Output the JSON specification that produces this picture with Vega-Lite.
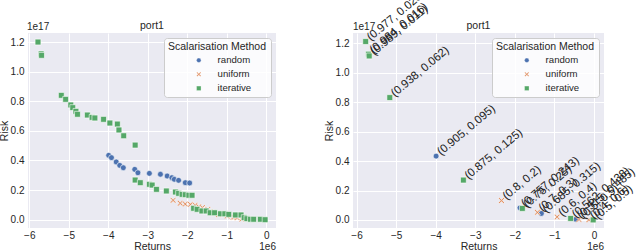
{
  "$schema": "https://vega.github.io/schema/vega-lite/v6.json",
  "background": "white",
  "padding": {"left": -1, "top": -12, "right": 0, "bottom": 0},
  "autosize": {"type": "pad"},
  "spacing": 77,
  "bounds": "flush",
  "config": {
    "font": "Liberation Sans",
    "view": {"fill": "#EAEAF2", "stroke": null},
    "axis": {
      "domain": false, "ticks": false, "grid": true, "gridColor": "white", "gridWidth": 1,
      "labelFont": "Liberation Sans", "labelFontSize": 10, "labelColor": "#262626", "labelOverlap": false, "labelFlush": false,
      "titleFont": "Liberation Sans", "titleFontSize": 10.5, "titleFontWeight": "normal", "titleColor": "#262626",
      "labelPadding": 4, "titlePadding": 1, "tickCount": 10
    },
    "axisX": {"labelPadding": 2, "titlePadding": 1},
    "legend": {
      "orient": "top-right", "offset": 5, "padding": 4,
      "fillColor": "rgba(255,255,255,0.8)", "strokeColor": "#CCCCCC", "cornerRadius": 3,
      "titleFont": "Liberation Sans", "titleFontSize": 10.5, "titleFontWeight": "normal", "titleColor": "#262626",
      "labelFont": "Liberation Sans", "labelFontSize": 9.6, "labelColor": "#262626",
      "symbolSize": 20, "symbolStrokeWidth": 0.3, "labelOffset": 14, "rowPadding": 3, "titlePadding": 3
    }
  },
  "resolve": {
    "scale": {"color": "independent", "shape": "independent"},
    "legend": {"color": "independent", "shape": "independent"}
  },
  "datasets": {
    "left": [
      {"method": "random", "returns": -3.99, "risk": 0.435},
      {"method": "random", "returns": -3.92, "risk": 0.419},
      {"method": "random", "returns": -3.80, "risk": 0.39},
      {"method": "random", "returns": -3.71, "risk": 0.367},
      {"method": "random", "returns": -3.62, "risk": 0.351},
      {"method": "random", "returns": -3.33, "risk": 0.34},
      {"method": "random", "returns": -3.25, "risk": 0.317},
      {"method": "random", "returns": -2.96, "risk": 0.313},
      {"method": "random", "returns": -2.68, "risk": 0.307},
      {"method": "random", "returns": -2.51, "risk": 0.295},
      {"method": "random", "returns": -2.39, "risk": 0.284},
      {"method": "random", "returns": -2.33, "risk": 0.273},
      {"method": "random", "returns": -2.22, "risk": 0.266},
      {"method": "random", "returns": -2.05, "risk": 0.25},
      {"method": "random", "returns": -1.94, "risk": 0.248},
      {"method": "uniform", "returns": -2.36, "risk": 0.131},
      {"method": "uniform", "returns": -2.18, "risk": 0.111},
      {"method": "uniform", "returns": -2.05, "risk": 0.106},
      {"method": "uniform", "returns": -1.92, "risk": 0.104},
      {"method": "uniform", "returns": -1.80, "risk": 0.099},
      {"method": "uniform", "returns": -1.71, "risk": 0.088},
      {"method": "uniform", "returns": -1.62, "risk": 0.082},
      {"method": "uniform", "returns": -1.48, "risk": 0.07},
      {"method": "uniform", "returns": -1.42, "risk": 0.055},
      {"method": "uniform", "returns": -1.33, "risk": 0.047},
      {"method": "uniform", "returns": -1.21, "risk": 0.034},
      {"method": "uniform", "returns": -0.99, "risk": 0.025},
      {"method": "uniform", "returns": -0.84, "risk": 0.016},
      {"method": "uniform", "returns": -0.81, "risk": 0.018},
      {"method": "uniform", "returns": -0.74, "risk": 0.014},
      {"method": "uniform", "returns": -0.62, "risk": 0.004},
      {"method": "iterative", "returns": -5.78, "risk": 1.2},
      {"method": "iterative", "returns": -5.70, "risk": 1.12},
      {"method": "iterative", "returns": -5.69, "risk": 1.11},
      {"method": "iterative", "returns": -5.19, "risk": 0.84},
      {"method": "iterative", "returns": -5.08, "risk": 0.813},
      {"method": "iterative", "returns": -4.95, "risk": 0.775},
      {"method": "iterative", "returns": -4.90, "risk": 0.757},
      {"method": "iterative", "returns": -4.82, "risk": 0.732},
      {"method": "iterative", "returns": -4.78, "risk": 0.712},
      {"method": "iterative", "returns": -4.53, "risk": 0.707},
      {"method": "iterative", "returns": -4.41, "risk": 0.691},
      {"method": "iterative", "returns": -4.34, "risk": 0.687},
      {"method": "iterative", "returns": -4.12, "risk": 0.678},
      {"method": "iterative", "returns": -3.96, "risk": 0.653},
      {"method": "iterative", "returns": -3.77, "risk": 0.646},
      {"method": "iterative", "returns": -3.73, "risk": 0.606},
      {"method": "iterative", "returns": -3.61, "risk": 0.567},
      {"method": "iterative", "returns": -3.32, "risk": 0.504},
      {"method": "iterative", "returns": -3.32, "risk": 0.268},
      {"method": "iterative", "returns": -3.19, "risk": 0.25},
      {"method": "iterative", "returns": -2.96, "risk": 0.239},
      {"method": "iterative", "returns": -2.89, "risk": 0.234},
      {"method": "iterative", "returns": -2.78, "risk": 0.205},
      {"method": "iterative", "returns": -2.53, "risk": 0.194},
      {"method": "iterative", "returns": -2.30, "risk": 0.187},
      {"method": "iterative", "returns": -2.22, "risk": 0.178},
      {"method": "iterative", "returns": -2.13, "risk": 0.171},
      {"method": "iterative", "returns": -2.05, "risk": 0.169},
      {"method": "iterative", "returns": -1.96, "risk": 0.165},
      {"method": "iterative", "returns": -1.88, "risk": 0.165},
      {"method": "iterative", "returns": -1.84, "risk": 0.077},
      {"method": "iterative", "returns": -1.75, "risk": 0.07},
      {"method": "iterative", "returns": -1.63, "risk": 0.059},
      {"method": "iterative", "returns": -1.52, "risk": 0.059},
      {"method": "iterative", "returns": -1.42, "risk": 0.047},
      {"method": "iterative", "returns": -1.31, "risk": 0.047},
      {"method": "iterative", "returns": -1.16, "risk": 0.04},
      {"method": "iterative", "returns": -1.05, "risk": 0.04},
      {"method": "iterative", "returns": -0.95, "risk": 0.036},
      {"method": "iterative", "returns": -0.78, "risk": 0.032},
      {"method": "iterative", "returns": -0.64, "risk": 0.032},
      {"method": "iterative", "returns": -0.56, "risk": 0.014},
      {"method": "iterative", "returns": -0.49, "risk": 0.007},
      {"method": "iterative", "returns": -0.40, "risk": 0.003},
      {"method": "iterative", "returns": -0.32, "risk": 0.003},
      {"method": "iterative", "returns": -0.15, "risk": 0.003},
      {"method": "iterative", "returns": -0.03, "risk": 0.0}
    ],
    "right": [
      {"method": "random", "returns": -3.99, "risk": 0.434, "weights": "(0.905, 0.095)"},
      {"method": "random", "returns": -1.87, "risk": 0.082, "weights": "(0.757, 0.243)"},
      {"method": "random", "returns": -1.33, "risk": 0.044, "weights": "(0.685, 0.315)"},
      {"method": "random", "returns": -0.46, "risk": 0.004, "weights": "(0.515, 0.485)"},
      {"method": "uniform", "returns": -2.34, "risk": 0.132, "weights": "(0.8, 0.2)"},
      {"method": "uniform", "returns": -1.43, "risk": 0.052, "weights": "(0.7, 0.3)"},
      {"method": "uniform", "returns": -0.93, "risk": 0.02, "weights": "(0.6, 0.4)"},
      {"method": "uniform", "returns": -0.38, "risk": 0.003, "weights": "(0.5, 0.5)"},
      {"method": "uniform", "returns": -0.13, "risk": 0.001, "weights": "(0.4, 0.6)"},
      {"method": "iterative", "returns": -5.77, "risk": 1.213, "weights": "(0.977, 0.023)"},
      {"method": "iterative", "returns": -5.70, "risk": 1.127, "weights": "(0.984, 0.016)"},
      {"method": "iterative", "returns": -5.68, "risk": 1.115, "weights": "(0.989, 0.011)"},
      {"method": "iterative", "returns": -5.16, "risk": 0.832, "weights": "(0.938, 0.062)"},
      {"method": "iterative", "returns": -3.30, "risk": 0.271, "weights": "(0.875, 0.125)"},
      {"method": "iterative", "returns": -1.81, "risk": 0.078, "weights": "(0.75, 0.25)"},
      {"method": "iterative", "returns": -0.59, "risk": 0.01, "weights": "(0.562, 0.438)"},
      {"method": "iterative", "returns": -0.02, "risk": 0.0, "weights": "(0.5, 0.5)"}
    ]
  },
  "hconcat": [
    {
      "width": 248, "height": 195,
      "layer": [
        {
          "data": {"name": "left"},
          "mark": {"type": "point", "filled": true, "stroke": "white", "strokeWidth": 0.6, "size": 34, "opacity": 1},
          "encoding": {
            "x": {"field": "returns", "type": "quantitative", "scale": {"domain": [-6.033, 0.246], "nice": false, "zero": false}, "axis": {"values": [-6, -5, -4, -3, -2, -1, 0], "tickCount": 10, "format": "d", "title": "Returns", "labelOverlap": false}},
            "y": {"field": "risk", "type": "quantitative", "scale": {"domain": [-0.056, 1.261], "nice": false, "zero": false}, "axis": {"values": [0, 0.2, 0.4, 0.6, 0.8, 1, 1.2], "tickCount": 10, "format": ".1f", "title": "Risk", "labelOverlap": false}},
            "color": {"field": "method", "type": "nominal", "scale": {"domain": ["random", "uniform", "iterative"], "range": ["#4C72B0", "#DD8452", "#55A868"]}, "legend": {"title": "Scalarisation Method", "symbolOffset": 26}},
            "shape": {"field": "method", "type": "nominal", "scale": {"domain": ["random", "uniform", "iterative"], "range": ["circle", "M-1,-0.7L-0.3,0L-1,0.7L-0.7,1L0,0.3L0.7,1L1,0.7L0.3,0L1,-0.7L0.7,-1L0,-0.3L-0.7,-1Z", "square"]}, "legend": {"title": "Scalarisation Method", "symbolOffset": 26}}
          }
        },
        {
          "data": {"values": [{"mult": "1e17", "title": "port1"}]},
          "layer": [
            {
              "mark": {"type": "text", "align": "left", "baseline": "bottom", "fontSize": 10, "color": "#262626", "dy": -1, "dx": -1},
              "encoding": {"x": {"datum": -6.033, "type": "quantitative"}, "y": {"datum": 1.261, "type": "quantitative"}, "text": {"field": "mult"}}
            },
            {
              "mark": {"type": "text", "align": "center", "baseline": "bottom", "fontSize": 10.5, "color": "#262626", "dy": -2},
              "encoding": {"x": {"datum": -2.894, "type": "quantitative"}, "y": {"datum": 1.261, "type": "quantitative"}, "text": {"field": "title"}}
            }
          ]
        },
        {
          "data": {"values": [{"mult": "1e6"}]},
          "mark": {"type": "text", "align": "right", "baseline": "middle", "fontSize": 10, "color": "#262626", "dy": 19},
          "encoding": {"x": {"datum": 0.246, "type": "quantitative"}, "y": {"datum": -0.056, "type": "quantitative"}, "text": {"field": "mult"}}
        }
      ]
    },
    {
      "width": 251, "height": 195,
      "layer": [
        {
          "data": {"name": "right"},
          "mark": {"type": "point", "filled": true, "stroke": "white", "strokeWidth": 0.6, "size": 34, "opacity": 1},
          "encoding": {
            "x": {"field": "returns", "type": "quantitative", "scale": {"domain": [-6.09, 0.253], "nice": false, "zero": false}, "axis": {"values": [-6, -5, -4, -3, -2, -1, 0], "tickCount": 10, "format": "d", "title": "Returns", "labelOverlap": false}},
            "y": {"field": "risk", "type": "quantitative", "scale": {"domain": [-0.055, 1.271], "nice": false, "zero": false}, "axis": {"values": [0, 0.2, 0.4, 0.6, 0.8, 1, 1.2], "tickCount": 10, "format": ".1f", "title": "Risk", "labelOverlap": false}},
            "color": {"field": "method", "type": "nominal", "scale": {"domain": ["random", "uniform", "iterative"], "range": ["#4C72B0", "#DD8452", "#55A868"]}, "legend": {"title": "Scalarisation Method", "symbolOffset": 26}},
            "shape": {"field": "method", "type": "nominal", "scale": {"domain": ["random", "uniform", "iterative"], "range": ["circle", "M-1,-0.7L-0.3,0L-1,0.7L-0.7,1L0,0.3L0.7,1L1,0.7L0.3,0L1,-0.7L0.7,-1L0,-0.3L-0.7,-1Z", "square"]}, "legend": {"title": "Scalarisation Method", "symbolOffset": 26}}
          }
        },
        {
          "data": {"name": "right"},
          "mark": {"type": "text", "align": "left", "baseline": "middle", "angle": 320, "fontSize": 11.5, "color": "#222222", "dx": 4},
          "encoding": {
            "x": {"field": "returns", "type": "quantitative"},
            "y": {"field": "risk", "type": "quantitative"},
            "text": {"field": "weights"}
          }
        },
        {
          "data": {"values": [{"mult": "1e17", "title": "port1"}]},
          "layer": [
            {
              "mark": {"type": "text", "align": "left", "baseline": "bottom", "fontSize": 10, "color": "#262626", "dy": -1},
              "encoding": {"x": {"datum": -6.09, "type": "quantitative"}, "y": {"datum": 1.271, "type": "quantitative"}, "text": {"field": "mult"}}
            },
            {
              "mark": {"type": "text", "align": "center", "baseline": "bottom", "fontSize": 10.5, "color": "#262626", "dy": -2},
              "encoding": {"x": {"datum": -2.9185, "type": "quantitative"}, "y": {"datum": 1.271, "type": "quantitative"}, "text": {"field": "title"}}
            }
          ]
        },
        {
          "data": {"values": [{"mult": "1e6"}]},
          "mark": {"type": "text", "align": "right", "baseline": "middle", "fontSize": 10, "color": "#262626", "dy": 19},
          "encoding": {"x": {"datum": 0.253, "type": "quantitative"}, "y": {"datum": -0.055, "type": "quantitative"}, "text": {"field": "mult"}}
        }
      ]
    }
  ]
}
